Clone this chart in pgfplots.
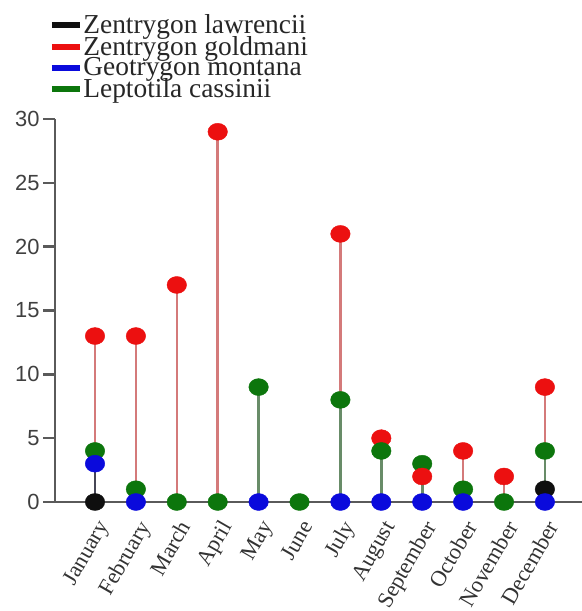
\documentclass[border=0pt]{standalone}
\usepackage{pgfplots}
\pgfplotsset{compat=1.18}
\usepackage{fontspec}
\setmainfont{Liberation Serif}
\setsansfont{Liberation Sans}
\definecolor{mred}{RGB}{236,16,16}
\definecolor{mgreen}{RGB}{12,118,12}
\definecolor{mblue}{RGB}{10,10,220}
\definecolor{mblack}{RGB}{15,15,15}
\definecolor{sred}{RGB}{212,122,122}
\definecolor{sgreen}{RGB}{104,140,104}
\definecolor{sblue}{RGB}{70,70,85}
\definecolor{sblack}{RGB}{30,30,30}
\definecolor{axgray}{RGB}{90,90,90}
\begin{document}
\begin{tikzpicture}
\useasboundingbox (0,0) rectangle (582bp,611bp);
\begin{axis}[
  at={(55bp,109bp)}, anchor=south west,
  width=527bp, height=383bp, scale only axis,
  xmin=-0.978, xmax=11.907, ymin=0, ymax=30,
  clip=false,
  axis x line*=bottom, axis y line*=left,
  axis line style={draw=axgray, line width=2.5bp},
  xtick={0,...,11},
  xticklabels={January,February,March,April,May,June,July,August,September,October,November,December},
  x tick style={draw=none},
  xticklabel style={rotate=60, anchor=north east, font=\fontsize{22.5}{22.5}\selectfont, text=black!80},
  ytick={0,5,10,15,20,25,30},
  y tick style={draw=axgray, line width=2.5bp},
  tick align=outside, major tick length=12bp,
  yticklabel style={font=\sffamily\fontsize{22}{22}\selectfont, text=black!75},
  /pgf/number format/assume math mode=true,
  legend style={draw=none, fill=none, inner sep=0pt, row sep=0bp,
    font=\fontsize{27.5}{27.5}\selectfont, text=black!85,
    at={(axis description cs:-0.012,1.274)}, anchor=north west,
    cells={anchor=west}, nodes={inner sep=0.5bp}},
  legend image code/.code={\draw[#1, line width=6bp] (0bp,0bp) -- (28bp,0bp);},
]
\addlegendimage{mblack}\addlegendentry{Zentrygon lawrencii}
\addlegendimage{mred}\addlegendentry{Zentrygon goldmani}
\addlegendimage{mblue}\addlegendentry{Geotrygon montana}
\addlegendimage{mgreen}\addlegendentry{Leptotila cassinii}

% stems
\addplot[forget plot, ycomb, draw=sred, line width=2.6bp] coordinates {(0,13)(1,13)(2,17)(3,29)(6,21)(7,5)(8,2)(9,4)(10,2)(11,9)};
\addplot[forget plot, ycomb, draw=sgreen, line width=2.6bp] coordinates {(0,4)(1,1)(4,9)(6,8)(7,4)(8,3)(9,1)(11,4)};
\addplot[forget plot, ycomb, draw=sblue, line width=2.6bp] coordinates {(0,3)};
\addplot[forget plot, ycomb, draw=sblack, line width=2.6bp] coordinates {(11,1)};

% markers
\addplot[forget plot, only marks, mark=*, mark size=8.5bp, mark options={fill=mred, draw=mred, xscale=1.15}] coordinates {(0,13)(1,13)(2,17)(3,29)(6,21)(7,5)(9,4)(10,2)(11,9)};
\addplot[forget plot, only marks, mark=*, mark size=8.5bp, mark options={fill=mgreen, draw=mgreen, xscale=1.15}] coordinates {(0,4)(1,1)(2,0)(3,0)(4,9)(5,0)(6,8)(7,4)(8,3)(9,1)(10,0)(11,4)};
\addplot[forget plot, only marks, mark=*, mark size=8.5bp, mark options={fill=mred, draw=mred, xscale=1.15}] coordinates {(8,2)};
\addplot[forget plot, only marks, mark=*, mark size=8.5bp, mark options={fill=mblack, draw=mblack, xscale=1.15}] coordinates {(0,0)(11,1)};
\addplot[forget plot, only marks, mark=*, mark size=8.5bp, mark options={fill=mblue, draw=mblue, xscale=1.15}] coordinates {(0,3)(1,0)(4,0)(6,0)(7,0)(8,0)(9,0)(11,0)};
\end{axis}
\end{tikzpicture}
\end{document}
